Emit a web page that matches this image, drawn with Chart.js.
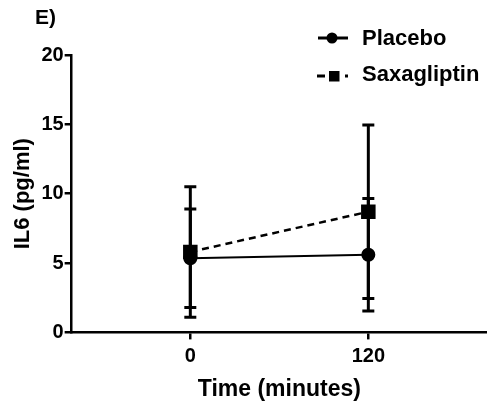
<!DOCTYPE html>
<html>
<head>
<meta charset="utf-8">
<script src="https://cdn.jsdelivr.net/npm/chart.js@4.4.1/dist/chart.umd.min.js"></script>
<style>
  html, body { margin: 0; padding: 0; background: #fff; }
  #wrap { width: 487px; height: 407px; }
</style>
</head>
<body>
<div id="wrap"><canvas id="chart" width="487" height="407"></canvas></div>
<script>
// data
const times = [0, 120];
const xTicks = [0, 120];
const yTicks = [0, 5, 10, 15, 20];
const placebo = [5.35, 5.6];
const placeboErr = [3.55, 4.05];
const saxagliptin = [5.8, 8.7];
const saxagliptinErr = [4.7, 6.25];

const FONT = "'Liberation Sans', Arial, sans-serif";

// vertical error bars with caps
const errorBars = {
  id: "errorBars",
  afterDatasetsDraw(chart) {
    const ctx = chart.ctx;
    const yScale = chart.scales.y;
    ctx.save();
    ctx.strokeStyle = "#000";
    chart.data.datasets.forEach((ds, i) => {
      const meta = chart.getDatasetMeta(i);
      meta.data.forEach((pt, j) => {
        const v = ds.data[j].y;
        const e = ds.errors[j];
        const top = yScale.getPixelForValue(v + e);
        const bot = yScale.getPixelForValue(v - e);
        ctx.lineWidth = 3;
        ctx.beginPath();
        ctx.moveTo(pt.x, top);
        ctx.lineTo(pt.x, bot);
        ctx.stroke();
        ctx.beginPath();
        ctx.moveTo(pt.x - 6, top);
        ctx.lineTo(pt.x + 6, top);
        ctx.moveTo(pt.x - 6, bot);
        ctx.lineTo(pt.x + 6, bot);
        ctx.stroke();
      });
    });
    ctx.restore();
  }
};

// panel letter and legend in the top right
const extras = {
  id: "extras",
  afterDraw(chart) {
    const ctx = chart.ctx;
    ctx.save();
    ctx.fillStyle = "#000";
    ctx.textBaseline = "middle";
    ctx.font = "bold 21px " + FONT;
    ctx.fillText("E)", 35, 18);

    ctx.font = "bold 22px " + FONT;
    // Placebo
    ctx.strokeStyle = "#000";
    ctx.lineWidth = 3;
    ctx.beginPath();
    ctx.moveTo(318, 38);
    ctx.lineTo(348, 38);
    ctx.stroke();
    ctx.beginPath();
    ctx.arc(332, 38, 5.5, 0, Math.PI * 2);
    ctx.fill();
    ctx.fillText(chart.data.datasets[0].label, 362, 39);

    // Saxagliptin
    ctx.fillRect(317, 74.5, 8, 3);
    ctx.fillRect(329, 71, 10.5, 10.5);
    ctx.fillRect(345, 74.5, 3, 3);
    ctx.fillText(chart.data.datasets[1].label, 362, 75);
    ctx.restore();
  }
};

new Chart(document.getElementById("chart"), {
  type: "line",
  data: {
    datasets: [
      {
        label: "Placebo",
        data: times.map((t, i) => ({ x: t, y: placebo[i] })),
        errors: placeboErr,
        borderColor: "#000",
        backgroundColor: "#000",
        borderWidth: 2,
        pointStyle: "circle",
        pointRadius: 6,
        pointHoverRadius: 6
      },
      {
        label: "Saxagliptin",
        data: times.map((t, i) => ({ x: t, y: saxagliptin[i] })),
        errors: saxagliptinErr,
        borderColor: "#000",
        backgroundColor: "#000",
        borderWidth: 2.5,
        borderDash: [7, 5],
        pointStyle: "rect",
        pointRadius: 8.5,
        pointHoverRadius: 8.5
      }
    ]
  },
  options: {
    responsive: false,
    animation: false,
    layout: { autoPadding: false, padding: { top: 55, right: 0, left: 6, bottom: 4 } },
    plugins: {
      legend: { display: false },
      tooltip: { enabled: false }
    },
    scales: {
      x: {
        type: "linear",
        min: -80,
        max: 200,
        afterBuildTicks: axis => { axis.ticks = xTicks.map(v => ({ value: v })); },
        grid: { drawOnChartArea: false, color: "#000", lineWidth: 2.5, tickLength: 7 },
        border: { color: "#000", width: 2.5 },
        ticks: { color: "#000", font: { family: FONT, size: 20, weight: "bold" }, padding: 5 },
        title: {
          display: true,
          text: "Time (minutes)",
          color: "#000",
          font: { family: FONT, size: 23, weight: "bold" },
          padding: { top: 2, bottom: 0 }
        }
      },
      y: {
        min: 0,
        max: 20,
        afterBuildTicks: axis => { axis.ticks = yTicks.map(v => ({ value: v })); },
        grid: { drawOnChartArea: false, color: "#000", lineWidth: 2.5, tickLength: 7 },
        border: { color: "#000", width: 2.5 },
        ticks: { color: "#000", font: { family: FONT, size: 20, weight: "bold" }, padding: 1 },
        title: {
          display: true,
          text: "IL6 (pg/ml)",
          color: "#000",
          font: { family: FONT, size: 22, weight: "bold" },
          padding: { bottom: 4 }
        }
      }
    }
  },
  plugins: [errorBars, extras]
});
</script>
</body>
</html>
